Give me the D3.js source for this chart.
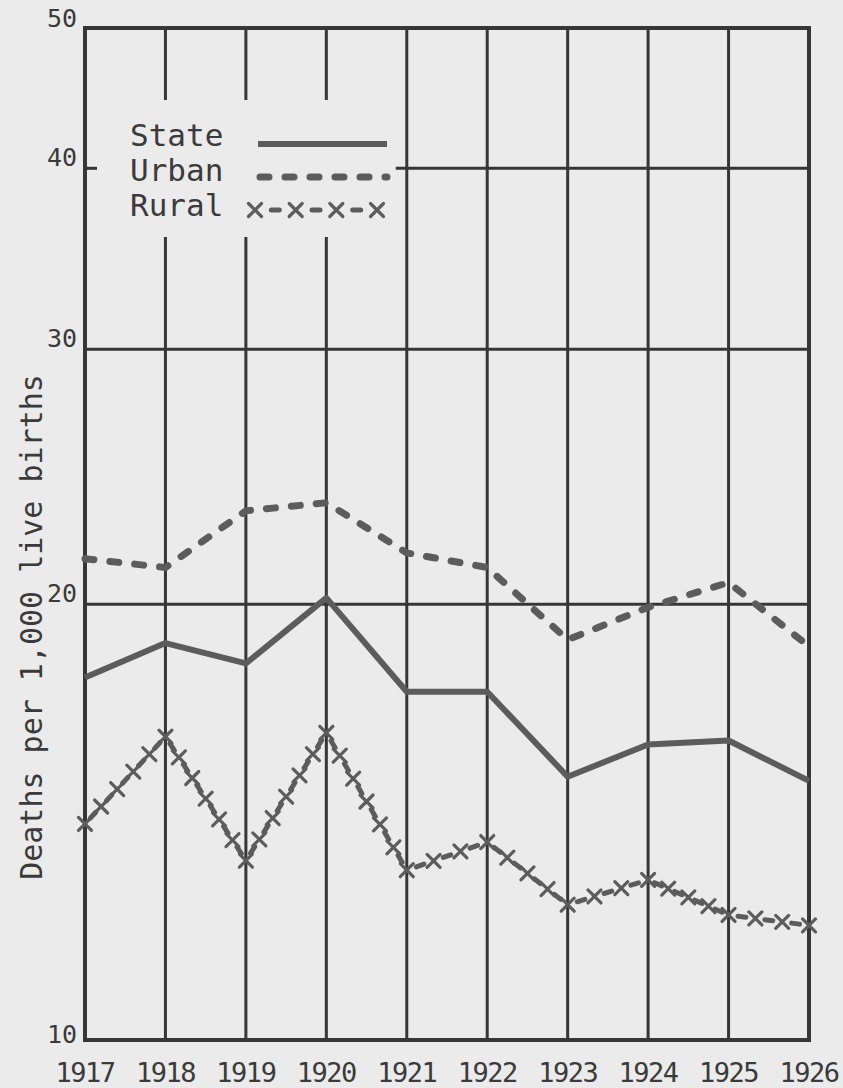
<!DOCTYPE html>
<html>
<head>
<meta charset="utf-8">
<script src="https://cdn.jsdelivr.net/npm/d3@7"></script>
<style>
  body { margin: 0; background: #ebebeb; }
  text { font-family: "DejaVu Sans Mono", "Liberation Mono", monospace; fill: #3a3a3a; }
</style>
</head>
<body>
<div id="chart"></div>
<script>
// values (deaths per 1,000 live births)
const years = [1917, 1918, 1919, 1920, 1921, 1922, 1923, 1924, 1925, 1926];
const stateRates = [17.8, 18.8, 18.2, 20.2, 17.4, 17.4, 15.2, 16.0, 16.1, 15.1];
const urbanRates = [21.5, 21.2, 23.2, 23.5, 21.7, 21.2, 18.9, 19.9, 20.7, 18.7];
const ruralRates = [14.1, 16.2, 13.3, 16.3, 13.1, 13.7, 12.4, 12.9, 12.2, 12.0];
const yTicks = [10, 20, 30, 40, 50];
const legendLabels = ['State', 'Urban', 'Rural'];

const W = 843, H = 1088;
const margin = { top: 28, right: 34, bottom: 48, left: 85 };
const width = W - margin.left - margin.right;
const height = H - margin.top - margin.bottom;
const ink = '#363636';
const lineInk = '#5c5c5c';
const paper = '#ebebeb';

const svg = d3.select('#chart')
    .append('svg')
    .attr('width', W)
    .attr('height', H)
    .style('background', paper);

const g = svg.append('g')
    .attr('transform', `translate(${margin.left},${margin.top})`);

const x = d3.scaleLinear()
    .domain([d3.min(years), d3.max(years)])
    .range([0, width]);

// the chart is drawn on a ratio (log) scale
const y = d3.scaleLog()
    .domain([10, 50])
    .range([height, 0]);

// grid
g.selectAll('.vgrid')
    .data(years.slice(1, -1))
    .enter()
    .append('line')
    .attr('x1', d => x(d)).attr('x2', d => x(d))
    .attr('y1', 0).attr('y2', height)
    .attr('stroke', ink)
    .attr('stroke-width', 3);

g.selectAll('.hgrid')
    .data(yTicks.slice(1, -1))
    .enter()
    .append('line')
    .attr('x1', 0).attr('x2', width)
    .attr('y1', d => y(d)).attr('y2', d => y(d))
    .attr('stroke', ink)
    .attr('stroke-width', 3);

// blank area behind the legend, grid interrupted there
g.append('rect')
    .attr('x', 3)
    .attr('y', 72)
    .attr('width', x(1921) - 14)
    .attr('height', 137)
    .attr('fill', paper);

g.append('line')
    .attr('x1', 0).attr('x2', 12)
    .attr('y1', y(40)).attr('y2', y(40))
    .attr('stroke', ink).attr('stroke-width', 3);

// frame
g.append('rect')
    .attr('width', width)
    .attr('height', height)
    .attr('fill', 'none')
    .attr('stroke', ink)
    .attr('stroke-width', 4);

// axis labels
g.selectAll('.ylab')
    .data(yTicks)
    .enter()
    .append('text')
    .attr('x', -8)
    .attr('y', d => y(d))
    .attr('dy', d => d === 50 ? '-0.05em' : (d === 10 ? '0.1em' : '-0.1em'))
    .attr('text-anchor', 'end')
    .attr('font-size', 25)
    .text(d => d);

g.selectAll('.xlab')
    .data(years)
    .enter()
    .append('text')
    .attr('x', d => x(d))
    .attr('y', height + 42)
    .attr('text-anchor', 'middle')
    .attr('font-size', 27)
    .attr('letter-spacing', -1.5)
    .text(d => d);

svg.append('text')
    .attr('transform', 'translate(42,627) rotate(-90)')
    .attr('text-anchor', 'middle')
    .attr('font-size', 30)
    .text('Deaths per 1,000 live births');

// series
const line = d3.line()
    .x((d, i) => x(years[i]))
    .y(d => y(d));

g.append('path')
    .datum(stateRates)
    .attr('fill', 'none')
    .attr('stroke', lineInk)
    .attr('stroke-width', 6)
    .attr('stroke-linejoin', 'round')
    .attr('d', line);

g.append('path')
    .datum(urbanRates)
    .attr('fill', 'none')
    .attr('stroke', lineInk)
    .attr('stroke-width', 7)
    .attr('stroke-linecap', 'round')
    .attr('stroke-dasharray', '9,16')
    .attr('d', line);

// rural: x marks alternating with short dashes along each segment
function crossMarks(parent, pts, period) {
    for (let i = 0; i < pts.length - 1; i++) {
        const [x0, y0] = pts[i], [x1, y1] = pts[i + 1];
        const len = Math.hypot(x1 - x0, y1 - y0);
        const n = Math.max(1, Math.round(len / period));
        const ux = (x1 - x0) / len, uy = (y1 - y0) / len;
        for (let k = 0; k < n; k++) {
            const t = (k + 0.5) / n;
            const cx = x0 + (x1 - x0) * t, cy = y0 + (y1 - y0) * t;
            parent.append('line')
                .attr('x1', cx - ux * 4).attr('y1', cy - uy * 4)
                .attr('x2', cx + ux * 4).attr('y2', cy + uy * 4)
                .attr('stroke', lineInk).attr('stroke-width', 5)
                .attr('stroke-linecap', 'round');
            if (k > 0) drawX(parent, x0 + (x1 - x0) * k / n, y0 + (y1 - y0) * k / n);
        }
    }
    pts.forEach(p => drawX(parent, p[0], p[1]));
}

function drawX(parent, cx, cy) {
    const s = 6.5;
    parent.append('path')
        .attr('d', `M${cx - s},${cy - s}L${cx + s},${cy + s}M${cx - s},${cy + s}L${cx + s},${cy - s}`)
        .attr('stroke', lineInk)
        .attr('stroke-width', 3.2)
        .attr('stroke-linecap', 'round');
}

const ruralPts = ruralRates.map((d, i) => [x(years[i]), y(d)]);
crossMarks(g.append('g'), ruralPts, 25);

// legend
const legend = g.append('g');
const legendY = [118, 153, 188];

legend.selectAll('text')
    .data(legendLabels)
    .enter()
    .append('text')
    .attr('x', 45)
    .attr('y', (d, i) => legendY[i])
    .attr('font-size', 31)
    .text(d => d);

legend.append('line')
    .attr('x1', 173).attr('x2', 302)
    .attr('y1', legendY[0] - 2).attr('y2', legendY[0] - 2)
    .attr('stroke', lineInk).attr('stroke-width', 6);

legend.append('line')
    .attr('x1', 175).attr('x2', 302)
    .attr('y1', legendY[1] - 4).attr('y2', legendY[1] - 4)
    .attr('stroke', lineInk).attr('stroke-width', 7)
    .attr('stroke-linecap', 'round')
    .attr('stroke-dasharray', '9,16');

crossMarks(legend.append('g'), [[170, legendY[2] - 6], [292, legendY[2] - 6]], 45);
</script>
</body>
</html>
